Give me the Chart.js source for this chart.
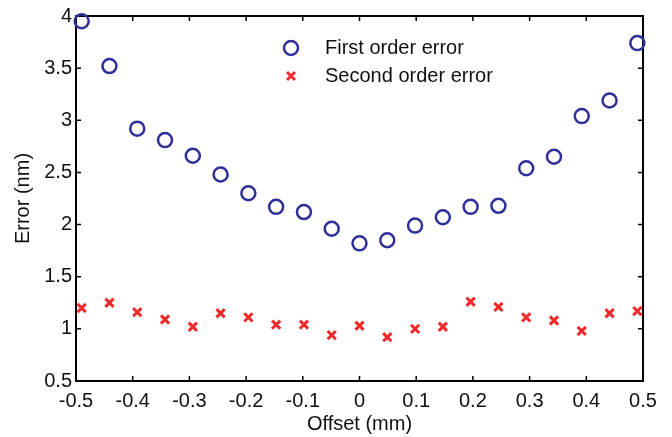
<!DOCTYPE html>
<html>
<head>
<meta charset="utf-8">
<script src="https://cdn.jsdelivr.net/npm/chart.js@4/dist/chart.umd.min.js"></script>
<style>
  html, body { margin: 0; padding: 0; background: #ffffff; }
  #wrap { width: 672px; height: 437px; }
</style>
</head>
<body>
<div id="wrap"><canvas id="c" width="672" height="437"></canvas></div>
<script>
// ---- data ----
const offsets = [-0.49, -0.441, -0.392, -0.343, -0.294, -0.245, -0.196, -0.147, -0.098, -0.049, 0,
                 0.049, 0.098, 0.147, 0.196, 0.245, 0.294, 0.343, 0.392, 0.441, 0.49];
const firstOrderError = [3.95, 3.52, 2.92, 2.81, 2.66, 2.48, 2.30, 2.17, 2.12, 1.96, 1.82,
                         1.85, 1.99, 2.07, 2.17, 2.18, 2.54, 2.65, 3.04, 3.19, 3.74];
const secondOrderError = [1.20, 1.25, 1.16, 1.09, 1.02, 1.15, 1.11, 1.04, 1.04, 0.94, 1.03,
                          0.92, 1.00, 1.02, 1.26, 1.21, 1.11, 1.08, 0.98, 1.15, 1.17];
const xTicks = [-0.5, -0.4, -0.3, -0.2, -0.1, 0, 0.1, 0.2, 0.3, 0.4, 0.5];
const yTicks = [0.5, 1, 1.5, 2, 2.5, 3, 3.5, 4];
const seriesNames = ['First order error', 'Second order error'];
const xTitle = 'Offset (mm)';
const yTitle = 'Error (nm)';

const BLUE = '#2f2f99';
const RED = '#f02a2a';
const FONT = '"Liberation Sans", Arial, sans-serif';

const toPts = (xs, ys) => xs.map((x, i) => ({ x: x, y: ys[i] }));

const frame = {
  id: 'frame',
  beforeDatasetsDraw(chart) {
    const ctx = chart.ctx, a = chart.chartArea;
    const xs = chart.scales.x, ys = chart.scales.y;
    const L = 5;
    ctx.save();
    ctx.strokeStyle = '#000';
    ctx.lineWidth = 1.5;
    ctx.beginPath();
    xTicks.forEach(v => {
      const px = xs.getPixelForValue(v);
      ctx.moveTo(px, a.bottom); ctx.lineTo(px, a.bottom - L);
      ctx.moveTo(px, a.top); ctx.lineTo(px, a.top + L);
    });
    yTicks.forEach(v => {
      const py = ys.getPixelForValue(v);
      ctx.moveTo(a.left, py); ctx.lineTo(a.left + L, py);
      ctx.moveTo(a.right, py); ctx.lineTo(a.right - L, py);
    });
    ctx.stroke();
    ctx.lineWidth = 2;
    ctx.strokeRect(a.left, a.top, a.right - a.left, a.bottom - a.top);
    ctx.restore();
  }
};

const legendBox = {
  id: 'legendBox',
  afterDraw(chart) {
    const ctx = chart.ctx, a = chart.chartArea;
    const mx = a.left + 215, tx = a.left + 249;
    const rows = [a.top + 32, a.top + 60];
    ctx.save();
    ctx.strokeStyle = BLUE; ctx.lineWidth = 2.5;
    ctx.beginPath(); ctx.arc(mx, rows[0], 7, 0, Math.PI * 2); ctx.stroke();
    ctx.strokeStyle = RED; ctx.lineWidth = 3;
    const r = 4;
    ctx.beginPath();
    ctx.moveTo(mx - r, rows[1] - r); ctx.lineTo(mx + r, rows[1] + r);
    ctx.moveTo(mx - r, rows[1] + r); ctx.lineTo(mx + r, rows[1] - r);
    ctx.stroke();
    ctx.fillStyle = '#111';
    ctx.font = '20px ' + FONT;
    ctx.textBaseline = 'middle';
    ctx.textAlign = 'left';
    ctx.fillText(seriesNames[0], tx, rows[0]);
    ctx.fillText(seriesNames[1], tx, rows[1]);
    ctx.restore();
  }
};

new Chart(document.getElementById('c'), {
  type: 'scatter',
  data: {
    datasets: [
      {
        label: seriesNames[0],
        data: toPts(offsets, firstOrderError),
        pointStyle: 'circle',
        pointRadius: 7,
        pointHoverRadius: 7,
        pointBorderWidth: 2.5,
        borderColor: BLUE,
        backgroundColor: 'rgba(0,0,0,0)',
        clip: false
      },
      {
        label: seriesNames[1],
        data: toPts(offsets, secondOrderError),
        pointStyle: 'crossRot',
        pointRadius: 5.8,
        pointHoverRadius: 5.8,
        pointBorderWidth: 3,
        borderColor: RED,
        backgroundColor: RED,
        clip: false
      }
    ]
  },
  options: {
    responsive: false,
    animation: false,
    devicePixelRatio: 1,
    layout: { padding: { left: 0, right: 29, top: 15, bottom: 0 } },
    plugins: { legend: { display: false }, tooltip: { enabled: false } },
    scales: {
      x: {
        type: 'linear',
        min: -0.5, max: 0.5,
        afterBuildTicks: s => { s.ticks = xTicks.map(v => ({ value: v })); },
        afterFit: s => { s.height = 56; },
        grid: { display: false, drawTicks: false },
        border: { display: false },
        ticks: {
          color: '#111', padding: 8, maxRotation: 0, autoSkip: false,
          font: { family: FONT, size: 20 },
          callback: v => String(Math.round(v * 10) / 10)
        },
        title: { display: true, text: xTitle, color: '#111', font: { family: FONT, size: 20 }, padding: { top: 0, bottom: 1 } }
      },
      y: {
        type: 'linear',
        min: 0.5, max: 4,
        afterBuildTicks: s => { s.ticks = yTicks.map(v => ({ value: v })); },
        afterFit: s => { s.width = 76; },
        grid: { display: false, drawTicks: false },
        border: { display: false },
        ticks: {
          color: '#111', padding: 4, autoSkip: false,
          font: { family: FONT, size: 20 },
          callback: v => String(Math.round(v * 10) / 10)
        },
        title: { display: true, text: yTitle, color: '#111', font: { family: FONT, size: 20 }, padding: { top: 11, bottom: 0 } }
      }
    }
  },
  plugins: [frame, legendBox]
});
</script>
</body>
</html>
